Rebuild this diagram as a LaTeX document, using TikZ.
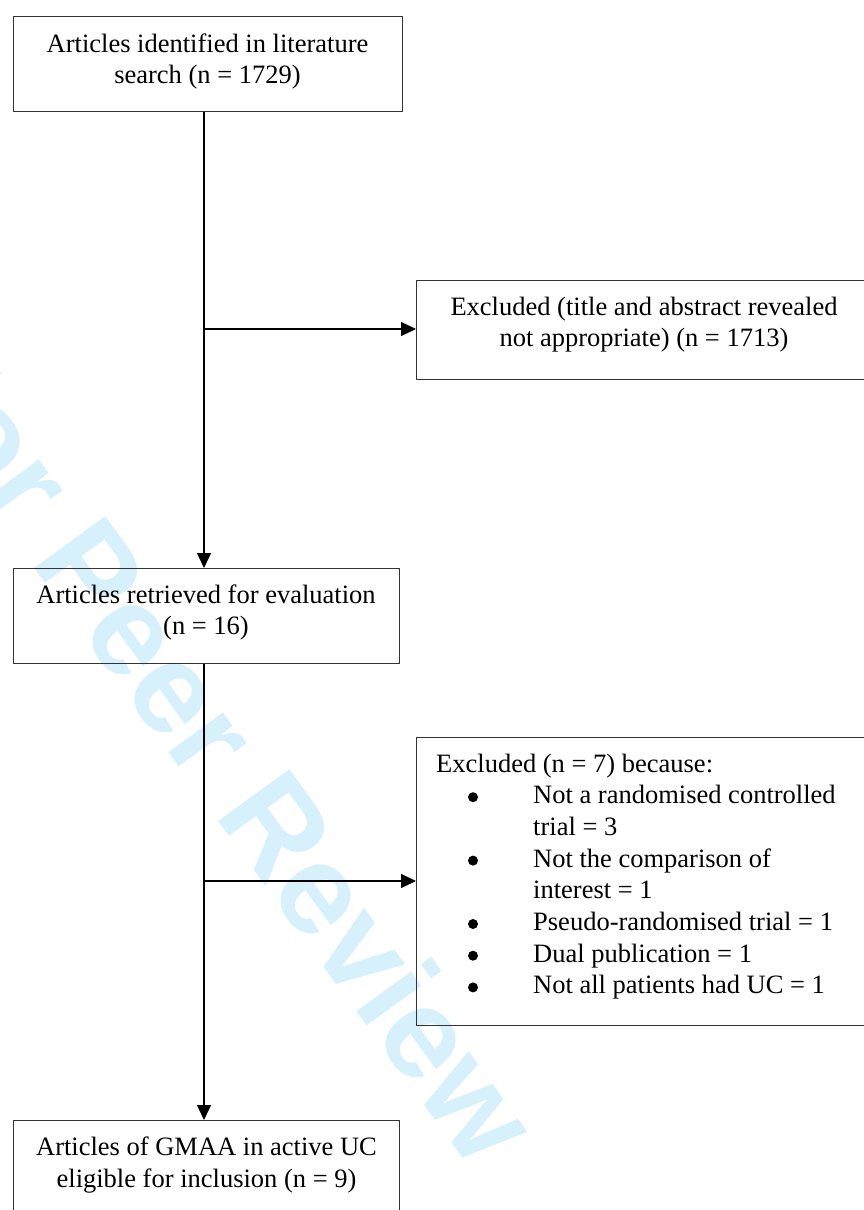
\documentclass[tikz,border=0pt]{standalone}
\usepackage{fontspec}
\setmainfont{Liberation Serif}
\newfontfamily\wmfont{Liberation Sans}
\usetikzlibrary{arrows.meta}
\definecolor{wmcyan}{RGB}{214,240,252}
\begin{document}
\begin{tikzpicture}[x=1pt,y=-1pt,
  box/.style={draw=black!80, line width=1.3pt, rectangle, inner sep=0pt, anchor=north west},
  txt/.style={font=\fontsize{26.5pt}{31.7pt}\selectfont, inner sep=0pt, anchor=base},
  txtl/.style={txt, anchor=base west},
  dot/.style={circle, fill=black, minimum size=10pt, inner sep=0pt},
  arr/.style={line width=1.3pt, -{Triangle[length=15pt,width=14pt]}},
  wm/.style={font=\wmfont\bfseries\fontsize{128pt}{128pt}\selectfont, text=wmcyan, inner sep=0pt, rotate=-54}]
\useasboundingbox (0,0) rectangle (864,1210);
% watermark
\node[wm] (wm) at (217,742) {For Peer Review};
% boxes
\node[box, minimum width=389pt, minimum height=95pt] (b1) at (13,16) {};
\node[box, minimum width=456pt, minimum height=99pt] (e1) at (416,280) {};
\node[box, minimum width=386pt, minimum height=95pt] (b2) at (13,568) {};
\node[box, minimum width=456pt, minimum height=288pt] (e2) at (416,737) {};
\node[box, minimum width=386pt, minimum height=120pt] (b3) at (13,1120) {};
% texts
\node[txt] (b1l1) at (207.5,52) {Articles identified in literature};
\node[txt] (b1l2) at (207.5,83) {search (n = 1729)};
\node[txt] (e1l1) at (644,315) {Excluded (title and abstract revealed};
\node[txt] (e1l2) at (644,346) {not appropriate) (n = 1713)};
\node[txt] (b2l1) at (206,603.5) {Articles retrieved for evaluation};
\node[txt] (b2l2) at (206,634) {(n = 16)};
\node[txtl] (e2h) at (436,772) {Excluded (n = 7) because:};
\node[dot] (e2b1) at (473,797.2) {};
\node[txtl] (e2i1a) at (533,803.7) {Not a randomised controlled};
\node[txtl] (e2i1b) at (533,835.4) {trial = 3};
\node[dot] (e2b2) at (473,860.6) {};
\node[txtl] (e2i2a) at (533,867.1) {Not the comparison of};
\node[txtl] (e2i2b) at (533,898.8) {interest = 1};
\node[dot] (e2b3) at (473,924) {};
\node[txtl] (e2i3) at (533,930.5) {Pseudo-randomised trial = 1};
\node[dot] (e2b4) at (473,955.7) {};
\node[txtl] (e2i4) at (533,962.2) {Dual publication = 1};
\node[dot] (e2b5) at (473,987.4) {};
\node[txtl] (e2i5) at (533,993.9) {Not all patients had UC = 1};
\node[txt] (b3l1) at (206.5,1155) {Articles of GMAA in active UC};
\node[txt] (b3l2) at (206.5,1187) {eligible for inclusion (n = 9)};
% connectors
\coordinate (vx) at (204,0);
\coordinate (j1) at (204,329);
\coordinate (j2) at (204,881);
\draw[arr] (b1.south -| vx) -- (b2.north -| vx);
\draw[arr] (j1) -- (j1 -| e1.west);
\draw[arr] (b2.south -| vx) -- (b3.north -| vx);
\draw[arr] (j2) -- (j2 -| e2.west);
\end{tikzpicture}
\end{document}
